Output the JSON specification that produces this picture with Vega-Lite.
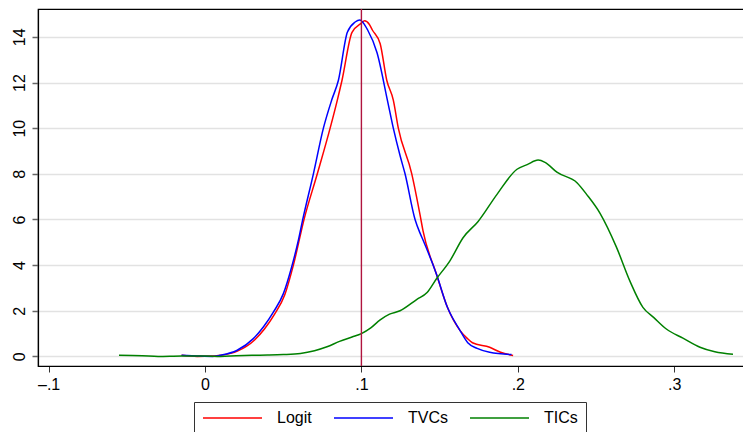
{
  "$schema": "https://vega.github.io/schema/vega-lite/v6.json",
  "autosize": "none",
  "padding": {"left": 38, "top": 9, "right": 0, "bottom": 66},
  "width": 710,
  "height": 357,
  "background": "white",
  "config": {
    "view": {"stroke": "black", "strokeWidth": 1.2},
    "font": "Liberation Sans"
  },
  "datasets": {
    "curves": [
      {"s":"Logit","x":-0.015,"y":0.05},{"s":"Logit","x":-0.005,"y":0.0},{"s":"Logit","x":0.005,"y":0.02},{"s":"Logit","x":0.0105,"y":0.05},{"s":"Logit","x":0.021,"y":0.24},{"s":"Logit","x":0.0317,"y":0.72},{"s":"Logit","x":0.038,"y":1.2},{"s":"Logit","x":0.0445,"y":1.85},{"s":"Logit","x":0.051,"y":2.7},{"s":"Logit","x":0.0565,"y":4.0},{"s":"Logit","x":0.0633,"y":6.0},{"s":"Logit","x":0.0718,"y":8.0},{"s":"Logit","x":0.08,"y":10.0},{"s":"Logit","x":0.0846,"y":11.23},{"s":"Logit","x":0.0876,"y":12.1},{"s":"Logit","x":0.094,"y":14.2},{"s":"Logit","x":0.1,"y":14.6},{"s":"Logit","x":0.102,"y":14.7},{"s":"Logit","x":0.105,"y":14.55},{"s":"Logit","x":0.107,"y":14.3},{"s":"Logit","x":0.112,"y":13.7},{"s":"Logit","x":0.1162,"y":12.1},{"s":"Logit","x":0.1204,"y":11.23},{"s":"Logit","x":0.1236,"y":10.0},{"s":"Logit","x":0.1322,"y":8.0},{"s":"Logit","x":0.1375,"y":6.2},{"s":"Logit","x":0.1394,"y":5.5},{"s":"Logit","x":0.148,"y":3.6},{"s":"Logit","x":0.155,"y":2.15},{"s":"Logit","x":0.163,"y":1.14},{"s":"Logit","x":0.1675,"y":0.8},{"s":"Logit","x":0.171,"y":0.6},{"s":"Logit","x":0.182,"y":0.4},{"s":"Logit","x":0.189,"y":0.18},{"s":"Logit","x":0.197,"y":0.04},
      {"s":"TVCs","x":-0.015,"y":0.05},{"s":"TVCs","x":-0.005,"y":0.02},{"s":"TVCs","x":0.005,"y":0.0},{"s":"TVCs","x":0.0096,"y":0.05},{"s":"TVCs","x":0.0203,"y":0.26},{"s":"TVCs","x":0.0309,"y":0.78},{"s":"TVCs","x":0.0373,"y":1.29},{"s":"TVCs","x":0.0437,"y":1.94},{"s":"TVCs","x":0.0501,"y":2.75},{"s":"TVCs","x":0.0554,"y":3.92},{"s":"TVCs","x":0.0597,"y":5.09},{"s":"TVCs","x":0.0625,"y":6.0},{"s":"TVCs","x":0.0693,"y":8.0},{"s":"TVCs","x":0.0757,"y":10.0},{"s":"TVCs","x":0.081,"y":11.23},{"s":"TVCs","x":0.0853,"y":12.1},{"s":"TVCs","x":0.091,"y":14.2},{"s":"TVCs","x":0.096,"y":14.65},{"s":"TVCs","x":0.099,"y":14.74},{"s":"TVCs","x":0.104,"y":14.3},{"s":"TVCs","x":0.11,"y":13.3},{"s":"TVCs","x":0.1166,"y":11.23},{"s":"TVCs","x":0.1204,"y":10.0},{"s":"TVCs","x":0.1247,"y":8.8},{"s":"TVCs","x":0.1279,"y":8.0},{"s":"TVCs","x":0.1343,"y":6.0},{"s":"TVCs","x":0.1375,"y":5.4},{"s":"TVCs","x":0.1394,"y":5.1},{"s":"TVCs","x":0.148,"y":3.6},{"s":"TVCs","x":0.155,"y":2.15},{"s":"TVCs","x":0.163,"y":1.14},{"s":"TVCs","x":0.168,"y":0.6},{"s":"TVCs","x":0.174,"y":0.35},{"s":"TVCs","x":0.182,"y":0.18},{"s":"TVCs","x":0.196,"y":0.08},
      {"s":"TICs","x":-0.055,"y":0.05},{"s":"TICs","x":-0.04,"y":0.03},{"s":"TICs","x":-0.03,"y":0.0},{"s":"TICs","x":-0.015,"y":0.02},{"s":"TICs","x":0.0,"y":0.02},{"s":"TICs","x":0.01,"y":0.0},{"s":"TICs","x":0.02,"y":0.03},{"s":"TICs","x":0.03,"y":0.05},{"s":"TICs","x":0.04,"y":0.06},{"s":"TICs","x":0.05,"y":0.08},{"s":"TICs","x":0.061,"y":0.13},{"s":"TICs","x":0.07,"y":0.25},{"s":"TICs","x":0.078,"y":0.42},{"s":"TICs","x":0.086,"y":0.66},{"s":"TICs","x":0.094,"y":0.85},{"s":"TICs","x":0.1,"y":1.0},{"s":"TICs","x":0.106,"y":1.25},{"s":"TICs","x":0.112,"y":1.6},{"s":"TICs","x":0.118,"y":1.85},{"s":"TICs","x":0.1247,"y":2.0},{"s":"TICs","x":0.1355,"y":2.5},{"s":"TICs","x":0.142,"y":2.8},{"s":"TICs","x":0.148,"y":3.4},{"s":"TICs","x":0.1567,"y":4.2},{"s":"TICs","x":0.165,"y":5.2},{"s":"TICs","x":0.1745,"y":5.9},{"s":"TICs","x":0.1867,"y":7.1},{"s":"TICs","x":0.1995,"y":8.2},{"s":"TICs","x":0.206,"y":8.4},{"s":"TICs","x":0.213,"y":8.6},{"s":"TICs","x":0.2174,"y":8.5},{"s":"TICs","x":0.225,"y":8.07},{"s":"TICs","x":0.238,"y":7.6},{"s":"TICs","x":0.244,"y":7.1},{"s":"TICs","x":0.2526,"y":6.27},{"s":"TICs","x":0.263,"y":4.8},{"s":"TICs","x":0.2717,"y":3.3},{"s":"TICs","x":0.28,"y":2.15},{"s":"TICs","x":0.287,"y":1.7},{"s":"TICs","x":0.295,"y":1.2},{"s":"TICs","x":0.3056,"y":0.8},{"s":"TICs","x":0.3165,"y":0.4},{"s":"TICs","x":0.326,"y":0.2},{"s":"TICs","x":0.3376,"y":0.09}
    ],
    "ref": [{"x": 0.1}]
  },
  "layer": [
    {
      "data": {"name": "curves"},
      "mark": {"type": "line", "strokeWidth": 1.5, "clip": true, "interpolate": "monotone"},
      "encoding": {
        "x": {
          "field": "x", "type": "quantitative",
          "scale": {"domain": [-0.1068, 0.3472], "nice": false, "zero": false},
          "axis": {
            "title": null, "values": [-0.1, 0, 0.1, 0.2, 0.3],
            "labelExpr": "datum.value < -0.05 ? '–.1' : datum.value < 0.05 ? '0' : datum.value < 0.15 ? '.1' : datum.value < 0.25 ? '.2' : '.3'",
            "grid": false, "domainColor": "black", "domainWidth": 1.2,
            "tickColor": "#333333", "tickSize": 6, "tickWidth": 1,
            "labelFontSize": 16, "labelColor": "black", "labelPadding": 4, "labelFont": "Liberation Sans"
          }
        },
        "y": {
          "field": "y", "type": "quantitative",
          "scale": {"domain": [-0.42, 15.22], "nice": false, "zero": false},
          "axis": {
            "title": null, "values": [0, 2, 4, 6, 8, 10, 12, 14],
            "grid": true, "gridColor": "#e2e2e2", "gridWidth": 1.5,
            "domainColor": "black", "domainWidth": 1.2,
            "tickColor": "#666666", "tickSize": 6, "tickWidth": 1.5,
            "labelAngle": 270, "labelAlign": "center", "labelBaseline": "bottom",
            "labelFontSize": 16, "labelColor": "black", "labelPadding": 5, "labelFont": "Liberation Sans"
          }
        },
        "color": {
          "field": "s", "type": "nominal",
          "scale": {"domain": ["Logit", "TVCs", "TICs"], "range": ["#ff0000", "#0000ff", "#008000"]},
          "legend": {
            "title": null, "orient": "none", "direction": "horizontal",
            "legendX": 156, "legendY": 393,
            "symbolType": "stroke", "symbolSize": 3481, "symbolStrokeWidth": 1.5,
            "clipHeight": 16,
            "labelFontSize": 16, "labelColor": "black", "labelFont": "Liberation Sans",
            "labelOffset": 14, "columnPadding": 21,
            "strokeColor": "#333333", "fillColor": "white", "padding": 8
          }
        }
      }
    },
    {
      "data": {"name": "ref"},
      "mark": {"type": "rule", "color": "#b0143e", "strokeWidth": 1.4},
      "encoding": {"x": {"field": "x", "type": "quantitative"}}
    }
  ]
}
